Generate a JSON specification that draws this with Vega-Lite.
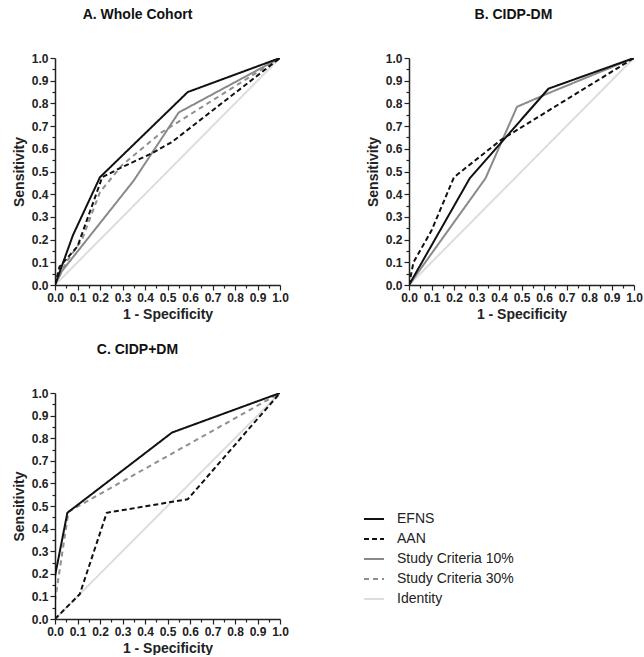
{
  "$schema": "https://vega.github.io/schema/vega-lite/v6.json",
  "background": "white",
  "padding": {"left": 12, "top": 8, "right": 0, "bottom": 0},
  "config": {
    "view": {"stroke": null},
    "font": "Liberation Sans",
    "title": {"font": "Liberation Sans", "fontSize": 14, "fontWeight": "bold", "color": "#111", "anchor": "middle", "offset": 30},
    "axis": {
      "grid": false,
      "domainColor": "#222",
      "domainWidth": 1.5,
      "tickColor": "#222",
      "tickWidth": 1.2,
      "labelFont": "Liberation Sans",
      "labelFontSize": 12,
      "labelFontWeight": "bold",
      "labelColor": "#222",
      "labelPadding": 2,
      "labelOverlap": false,
      "labelFlush": false,
      "titleFont": "Liberation Sans",
      "titleFontSize": 14,
      "titleFontWeight": "bold",
      "titleColor": "#222"
    },
    "legend": {
      "labelFont": "Liberation Sans",
      "labelFontSize": 14,
      "labelColor": "#222",
      "symbolType": "stroke",
      "symbolSize": 400,
      "rowPadding": 2,
      "labelOffset": 12
    }
  },
  "datasets": {
    "A": [
      {"series": "Identity", "fpr": 0, "sens": 0},
      {"series": "Identity", "fpr": 1, "sens": 1},
      {"series": "Study Criteria 30%", "fpr": 0, "sens": 0},
      {"series": "Study Criteria 30%", "fpr": 0.05, "sens": 0.1},
      {"series": "Study Criteria 30%", "fpr": 0.12, "sens": 0.2},
      {"series": "Study Criteria 30%", "fpr": 0.2, "sens": 0.41},
      {"series": "Study Criteria 30%", "fpr": 0.3, "sens": 0.53},
      {"series": "Study Criteria 30%", "fpr": 0.47, "sens": 0.67},
      {"series": "Study Criteria 30%", "fpr": 1, "sens": 1},
      {"series": "Study Criteria 10%", "fpr": 0, "sens": 0},
      {"series": "Study Criteria 10%", "fpr": 0.03, "sens": 0.06},
      {"series": "Study Criteria 10%", "fpr": 0.35, "sens": 0.46},
      {"series": "Study Criteria 10%", "fpr": 0.55, "sens": 0.76},
      {"series": "Study Criteria 10%", "fpr": 1, "sens": 1},
      {"series": "AAN", "fpr": 0, "sens": 0},
      {"series": "AAN", "fpr": 0.02, "sens": 0.08},
      {"series": "AAN", "fpr": 0.1, "sens": 0.17},
      {"series": "AAN", "fpr": 0.21, "sens": 0.475},
      {"series": "AAN", "fpr": 0.3, "sens": 0.52},
      {"series": "AAN", "fpr": 0.43, "sens": 0.58},
      {"series": "AAN", "fpr": 0.52, "sens": 0.63},
      {"series": "AAN", "fpr": 1, "sens": 1},
      {"series": "EFNS", "fpr": 0, "sens": 0},
      {"series": "EFNS", "fpr": 0.08, "sens": 0.22},
      {"series": "EFNS", "fpr": 0.2, "sens": 0.475},
      {"series": "EFNS", "fpr": 0.59, "sens": 0.85},
      {"series": "EFNS", "fpr": 1, "sens": 1}
    ],
    "B": [
      {"series": "Identity", "fpr": 0, "sens": 0},
      {"series": "Identity", "fpr": 1, "sens": 1},
      {"series": "Study Criteria 10%", "fpr": 0, "sens": 0},
      {"series": "Study Criteria 10%", "fpr": 0.34, "sens": 0.47},
      {"series": "Study Criteria 10%", "fpr": 0.48, "sens": 0.785},
      {"series": "Study Criteria 10%", "fpr": 0.62, "sens": 0.845},
      {"series": "Study Criteria 10%", "fpr": 1, "sens": 1},
      {"series": "AAN", "fpr": 0, "sens": 0},
      {"series": "AAN", "fpr": 0.02, "sens": 0.1},
      {"series": "AAN", "fpr": 0.1, "sens": 0.24},
      {"series": "AAN", "fpr": 0.2, "sens": 0.475},
      {"series": "AAN", "fpr": 0.41, "sens": 0.64},
      {"series": "AAN", "fpr": 1, "sens": 1},
      {"series": "EFNS", "fpr": 0, "sens": 0},
      {"series": "EFNS", "fpr": 0.27, "sens": 0.47},
      {"series": "EFNS", "fpr": 0.62, "sens": 0.865},
      {"series": "EFNS", "fpr": 1, "sens": 1}
    ],
    "C": [
      {"series": "Identity", "fpr": 0, "sens": 0},
      {"series": "Identity", "fpr": 1, "sens": 1},
      {"series": "Study Criteria 30%", "fpr": 0, "sens": 0},
      {"series": "Study Criteria 30%", "fpr": 0, "sens": 0.08},
      {"series": "Study Criteria 30%", "fpr": 0.06, "sens": 0.475},
      {"series": "Study Criteria 30%", "fpr": 1, "sens": 1},
      {"series": "AAN", "fpr": 0, "sens": 0},
      {"series": "AAN", "fpr": 0.11, "sens": 0.11},
      {"series": "AAN", "fpr": 0.23, "sens": 0.47},
      {"series": "AAN", "fpr": 0.5, "sens": 0.515},
      {"series": "AAN", "fpr": 0.59, "sens": 0.53},
      {"series": "AAN", "fpr": 1, "sens": 1},
      {"series": "EFNS", "fpr": 0, "sens": 0},
      {"series": "EFNS", "fpr": 0, "sens": 0.19},
      {"series": "EFNS", "fpr": 0.055, "sens": 0.47},
      {"series": "EFNS", "fpr": 0.52, "sens": 0.825},
      {"series": "EFNS", "fpr": 1, "sens": 1}
    ]
  },
  "resolve": {"scale": {"color": "shared", "strokeDash": "shared", "strokeWidth": "shared"}},
  "vconcat": [
    {
      "spacing": 77,
      "hconcat": [
        {
          "title": {"text": "A. Whole Cohort", "dx": -30},
          "width": 225, "height": 227,
          "data": {"name": "A"},
          "mark": {"type": "line", "clip": true},
          "encoding": {
            "x": {"field": "fpr", "type": "quantitative", "scale": {"domain": [0, 1], "nice": false}, "axis": {"title": "1 - Specificity", "values": [0,0.05,0.1,0.15,0.2,0.25,0.3,0.35,0.4,0.45,0.5,0.55,0.6,0.65,0.7,0.75,0.8,0.85,0.9,0.95,1], "labelExpr": "round(datum.value*100) % 10 === 0 ? format(datum.value, '.1f') : ''", "tickSize": {"condition": {"test": "round(datum.value*100) % 10 === 0", "value": 5}, "value": 3}}},
            "y": {"field": "sens", "type": "quantitative", "scale": {"domain": [0, 1], "nice": false}, "axis": {"title": "Sensitivity", "titlePadding": 5, "values": [0,0.05,0.1,0.15,0.2,0.25,0.3,0.35,0.4,0.45,0.5,0.55,0.6,0.65,0.7,0.75,0.8,0.85,0.9,0.95,1], "labelExpr": "round(datum.value*100) % 10 === 0 ? format(datum.value, '.1f') : ''", "tickSize": {"condition": {"test": "round(datum.value*100) % 10 === 0", "value": 5}, "value": 3}}},
            "order": {"field": "sens", "type": "quantitative"},
            "color": {"field": "series", "type": "nominal", "scale": {"domain": ["EFNS", "AAN", "Study Criteria 10%", "Study Criteria 30%", "Identity"], "range": ["#111111", "#111111", "#8a8a8a", "#8f8f8f", "#dddddd"]}, "legend": {"title": null, "orient": "none", "legendX": 308, "legendY": 450}},
            "strokeDash": {"field": "series", "type": "nominal", "scale": {"domain": ["EFNS", "AAN", "Study Criteria 10%", "Study Criteria 30%", "Identity"], "range": [[1, 0], [5, 3], [1, 0], [5, 4], [1, 0]]}, "legend": {"title": null, "orient": "none", "legendX": 308, "legendY": 450}},
            "strokeWidth": {"field": "series", "type": "nominal", "scale": {"domain": ["EFNS", "AAN", "Study Criteria 10%", "Study Criteria 30%", "Identity"], "range": [2, 2, 1.6, 1.6, 1]}, "legend": {"title": null, "orient": "none", "legendX": 308, "legendY": 450}}
          }
        },
        {
          "title": {"text": "B. CIDP-DM", "dx": -8},
          "width": 225, "height": 227,
          "data": {"name": "B"},
          "mark": {"type": "line", "clip": true},
          "encoding": {
            "x": {"field": "fpr", "type": "quantitative", "scale": {"domain": [0, 1], "nice": false}, "axis": {"title": "1 - Specificity", "values": [0,0.05,0.1,0.15,0.2,0.25,0.3,0.35,0.4,0.45,0.5,0.55,0.6,0.65,0.7,0.75,0.8,0.85,0.9,0.95,1], "labelExpr": "round(datum.value*100) % 10 === 0 ? format(datum.value, '.1f') : ''", "tickSize": {"condition": {"test": "round(datum.value*100) % 10 === 0", "value": 5}, "value": 3}}},
            "y": {"field": "sens", "type": "quantitative", "scale": {"domain": [0, 1], "nice": false}, "axis": {"title": "Sensitivity", "titlePadding": 5, "values": [0,0.05,0.1,0.15,0.2,0.25,0.3,0.35,0.4,0.45,0.5,0.55,0.6,0.65,0.7,0.75,0.8,0.85,0.9,0.95,1], "labelExpr": "round(datum.value*100) % 10 === 0 ? format(datum.value, '.1f') : ''", "tickSize": {"condition": {"test": "round(datum.value*100) % 10 === 0", "value": 5}, "value": 3}}},
            "order": {"field": "sens", "type": "quantitative"},
            "color": {"field": "series", "type": "nominal", "legend": {"title": null, "orient": "none", "legendX": 308, "legendY": 450}},
            "strokeDash": {"field": "series", "type": "nominal", "legend": {"title": null, "orient": "none", "legendX": 308, "legendY": 450}},
            "strokeWidth": {"field": "series", "type": "nominal", "legend": {"title": null, "orient": "none", "legendX": 308, "legendY": 450}}
          }
        }
      ]
    },
    {
      "hconcat": [
        {
          "title": {"text": "C. CIDP+DM", "dx": -30},
          "width": 225, "height": 226,
          "data": {"name": "C"},
          "mark": {"type": "line", "clip": true},
          "encoding": {
            "x": {"field": "fpr", "type": "quantitative", "scale": {"domain": [0, 1], "nice": false}, "axis": {"title": "1 - Specificity", "values": [0,0.05,0.1,0.15,0.2,0.25,0.3,0.35,0.4,0.45,0.5,0.55,0.6,0.65,0.7,0.75,0.8,0.85,0.9,0.95,1], "labelExpr": "round(datum.value*100) % 10 === 0 ? format(datum.value, '.1f') : ''", "tickSize": {"condition": {"test": "round(datum.value*100) % 10 === 0", "value": 5}, "value": 3}}},
            "y": {"field": "sens", "type": "quantitative", "scale": {"domain": [0, 1], "nice": false}, "axis": {"title": "Sensitivity", "titlePadding": 5, "values": [0,0.05,0.1,0.15,0.2,0.25,0.3,0.35,0.4,0.45,0.5,0.55,0.6,0.65,0.7,0.75,0.8,0.85,0.9,0.95,1], "labelExpr": "round(datum.value*100) % 10 === 0 ? format(datum.value, '.1f') : ''", "tickSize": {"condition": {"test": "round(datum.value*100) % 10 === 0", "value": 5}, "value": 3}}},
            "order": {"field": "sens", "type": "quantitative"},
            "color": {"field": "series", "type": "nominal", "legend": {"title": null, "orient": "none", "legendX": 308, "legendY": 450}},
            "strokeDash": {"field": "series", "type": "nominal", "legend": {"title": null, "orient": "none", "legendX": 308, "legendY": 450}},
            "strokeWidth": {"field": "series", "type": "nominal", "legend": {"title": null, "orient": "none", "legendX": 308, "legendY": 450}}
          }
        }
      ]
    }
  ],
  "spacing": 22
}
